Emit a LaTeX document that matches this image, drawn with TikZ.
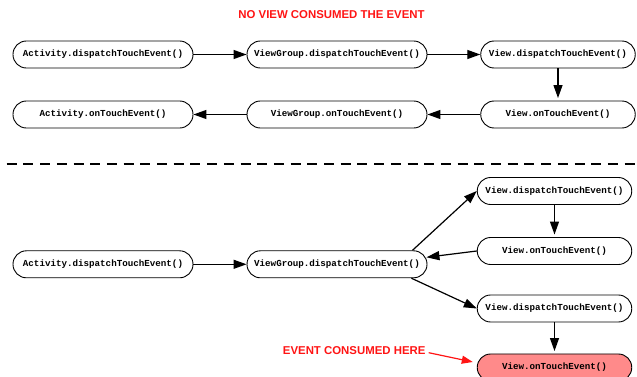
\documentclass[tikz,border=0pt]{standalone}
\usepackage{fontspec}
\setmainfont{Liberation Sans}
\newfontfamily\boxfont{Liberation Mono}
\usetikzlibrary{arrows.meta}
\definecolor{consumedfill}{RGB}{255,138,138}
\definecolor{labelred}{RGB}{255,20,20}
\begin{document}
\begin{tikzpicture}[x=1pt,y=1pt,
  callbox/.style={draw=black,line width=0.9pt,rounded corners=13.4pt,minimum height=27pt,inner sep=0pt,font=\boxfont\fontsize{9.2}{11}\selectfont\bfseries},
  widebox/.style={callbox,minimum width=180pt},
  viewbox/.style={callbox,minimum width=154.5pt},
  flow/.style={-{Triangle[length=13pt,width=9pt]},line width=1.2pt},
  redlabel/.style={text=labelred,font=\fontsize{11.4}{13}\selectfont\bfseries,inner sep=0pt},
  redflow/.style={-{Triangle[length=11pt,width=8pt]},line width=1.2pt,draw=labelred}]
\useasboundingbox (0,0) rectangle (637,377);
% title
\node[redlabel] (title) at (331.5,362) {NO VIEW CONSUMED THE EVENT};
% upper part
\node[widebox] (a1) at (103,322.5) {Activity.dispatchTouchEvent()};
\node[widebox] (g1) at (337,322.5) {ViewGroup.dispatchTouchEvent()};
\node[viewbox] (v1) at (558,322.5) {View.dispatchTouchEvent()};
\node[widebox] (a2) at (103,262.5) {Activity.onTouchEvent()};
\node[widebox] (g2) at (337,262.5) {ViewGroup.onTouchEvent()};
\node[viewbox] (v2) at (558,262.5) {View.onTouchEvent()};
\draw[flow] (a1) -- (g1);
\draw[flow] (g1) -- (v1);
\draw[flow,shorten >=2.5pt] (v1) -- (v2);
\draw[flow] (v2) -- (g2);
\draw[flow] (g2) -- (a2);
% separator
\coordinate (sepL) at (6.7,213);
\coordinate (sepR) at (635,213);
\draw[line width=1.3pt,dash pattern=on 10pt off 6.7pt] (sepL) -- (sepR);
% lower part
\node[widebox] (a3) at (103,112.7) {Activity.dispatchTouchEvent()};
\node[widebox] (g3) at (337,112.7) {ViewGroup.dispatchTouchEvent()};
\node[viewbox] (v3) at (554.5,186) {View.dispatchTouchEvent()};
\node[viewbox] (v4) at (554.5,126) {View.onTouchEvent()};
\node[viewbox] (v5) at (554.5,68.5) {View.dispatchTouchEvent()};
\node[viewbox,fill=consumedfill] (v6) at (554.5,9.5) {View.onTouchEvent()};
\draw[flow] (a3) -- (g3);
\draw[flow] ([xshift=-15pt]g3.north east) -- (v3.west);
\draw[flow,shorten >=2.5pt] (v3) -- (v4);
\draw[flow] (v4.west) -- ([xshift=-1pt,yshift=7pt]g3.east);
\draw[flow] ([xshift=-16pt]g3.south east) -- (v5.west);
\draw[flow,shorten >=2.5pt] (v5) -- (v6);
% consumed label
\node[redlabel] (here) at (354.2,26.3) {EVENT CONSUMED HERE};
\coordinate (hereTip) at ([xshift=-4pt,yshift=5.5pt]v6.west);
\draw[redflow] ([xshift=3pt,yshift=-2pt]here.east) -- (hereTip);
\end{tikzpicture}
\end{document}
